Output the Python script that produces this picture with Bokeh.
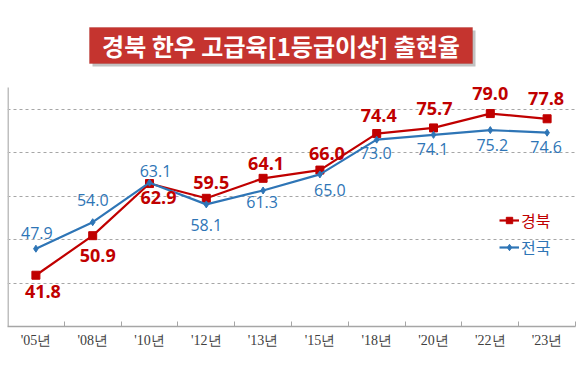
from bokeh.plotting import figure
from bokeh.models import (ColumnDataSource, LabelSet, Label, Legend, LegendItem,
                          FixedTicker, Grid, BoxAnnotation, Range1d)
from bokeh.core.properties import value
from bokeh.embed import file_html
from bokeh.resources import INLINE

# ---- data ----
years = ["'05년", "'08년", "'10년", "'12년", "'13년", "'15년", "'18년", "'20년", "'22년", "'23년"]
gyeongbuk = [41.8, 50.9, 62.9, 59.5, 64.1, 66.0, 74.4, 75.7, 79.0, 77.8]
national = [47.9, 54.0, 63.1, 58.1, 61.3, 65.0, 73.0, 74.1, 75.2, 74.6]
series_names = ["경북", "전국"]
title_text = "경북 한우 고급육[1등급이상] 출현율"
grid_values = [40, 50, 60, 70, 80]
y_min, y_axis_top = 30, 85

# ---- layout (pixels) ----
FRAME_W, FRAME_H = 568, 326
PX_PER_UNIT = 239 / (y_axis_top - y_min)
y_view_top = y_min + FRAME_H / PX_PER_UNIT

gb_dx = [7, 5, 9, 5, 3, 7, 2, 1, 0, -1]
gb_dy = [-16, -20, -14, 16, 15, 17, 18, 19, 20, 20]
nat_dx = [1, 0, 6, 0, -1, 10, -1, -1, 2, -1]
nat_dy = [16, 22, 12, -21, -12, -16, -13, -14, -15, -14]

RED = "#C00000"
BLUE = "#2E75B6"

xs = [i + 0.5 for i in range(len(years))]
src = ColumnDataSource(dict(
    x=xs, gb=gyeongbuk, nat=national,
    gb_txt=[f"{v:.1f}" for v in gyeongbuk],
    nat_txt=[f"{v:.1f}" for v in national],
    gb_dx=gb_dx, gb_dy=gb_dy, nat_dx=nat_dx, nat_dy=nat_dy,
))

p = figure(frame_width=FRAME_W, frame_height=FRAME_H, output_backend="svg", toolbar_location=None,
           x_range=Range1d(0, len(years)), y_range=Range1d(y_min, y_view_top),
           y_axis_location=None, min_border_left=7, min_border_right=5,
           min_border_top=0, min_border_bottom=0)
p.outline_line_color = None
p.background_fill_color = "white"
p.border_fill_color = "white"
p.grid.visible = False

# y grid
yg = Grid(dimension=1, ticker=FixedTicker(ticks=grid_values),
          grid_line_color="#A6A6A6", grid_line_dash="3 3", grid_line_width=1)
p.add_layout(yg)

# left axis line (value axis from y_min to y_axis_top)
p.segment(x0=[0], y0=[y_min], x1=[0], y1=[y_axis_top], line_color="#BFBFBF", line_width=3)

# x axis
ax = p.xaxis[0]
ax.ticker = FixedTicker(ticks=xs, minor_ticks=list(range(1, len(years) + 1)))
ax.major_label_overrides = {x: y for x, y in zip(xs, years)}
ax.major_tick_line_color = None
ax.major_tick_in = 0
ax.major_tick_out = 0
ax.minor_tick_in = 5
ax.minor_tick_out = 0
ax.minor_tick_line_color = "#A6A6A6"
ax.axis_line_color = "#A6A6A6"
ax.axis_line_width = 1.5
ax.major_label_standoff = 6
ax.major_label_text_font = "Liberation Serif"
ax.major_label_text_font_size = "14px"
ax.major_label_text_color = "#404040"

# series
r_line = p.line("x", "gb", source=src, line_color=RED, line_width=2.2)
r_mark = p.scatter("x", "gb", source=src, marker="square", size=8, fill_color=RED, line_color=RED)
b_line = p.line("x", "nat", source=src, line_color=BLUE, line_width=2.2)
b_mark = p.scatter("x", "nat", source=src, marker="diamond", size=7, fill_color=BLUE, line_color=BLUE)

p.add_layout(LabelSet(x="x", y="gb", text="gb_txt", source=src, x_offset="gb_dx", y_offset="gb_dy",
                      text_align="center", text_baseline="middle", text_color=RED,
                      text_font=value("Open Sans"), text_font_style="bold", text_font_size="18px"))
p.add_layout(LabelSet(x="x", y="nat", text="nat_txt", source=src, x_offset="nat_dx", y_offset="nat_dy",
                      text_align="center", text_baseline="middle", text_color=BLUE,
                      text_font=value("Open Sans"), text_font_size="16px"))

# legends
for name, rends, col, ly in [(series_names[0], [r_line, r_mark], RED, 94),
                             (series_names[1], [b_line, b_mark], BLUE, 67)]:
    lg = Legend(items=[LegendItem(label=name, renderers=rends)], location=(492, ly),
                padding=0, margin=0, spacing=0, glyph_width=20, glyph_height=16,
                label_height=16, label_standoff=2, border_line_color=None,
                background_fill_alpha=0, label_text_color=col,
                label_text_font="Noto Sans CJK KR", label_text_font_size="16px")
    p.add_layout(lg, "center")

# title box
p.add_layout(BoxAnnotation(left=85, right=468, top=296, bottom=260,
                           left_units="screen", right_units="screen",
                           top_units="screen", bottom_units="screen",
                           fill_color="#9A9A9A", fill_alpha=0.6, line_color=None))
p.add_layout(BoxAnnotation(left=82, right=465, top=299, bottom=263,
                           left_units="screen", right_units="screen",
                           top_units="screen", bottom_units="screen",
                           fill_color="#C5342F", fill_alpha=1, line_color="#A52824", line_width=1))
p.add_layout(Label(x=273.5, y=281, x_units="screen", y_units="screen", text=title_text,
                   text_align="center", text_baseline="middle", text_color="white",
                   text_font="Noto Sans CJK KR", text_font_style="bold", text_font_size="24px"))

open("out.html", "w").write(file_html(p, INLINE))
